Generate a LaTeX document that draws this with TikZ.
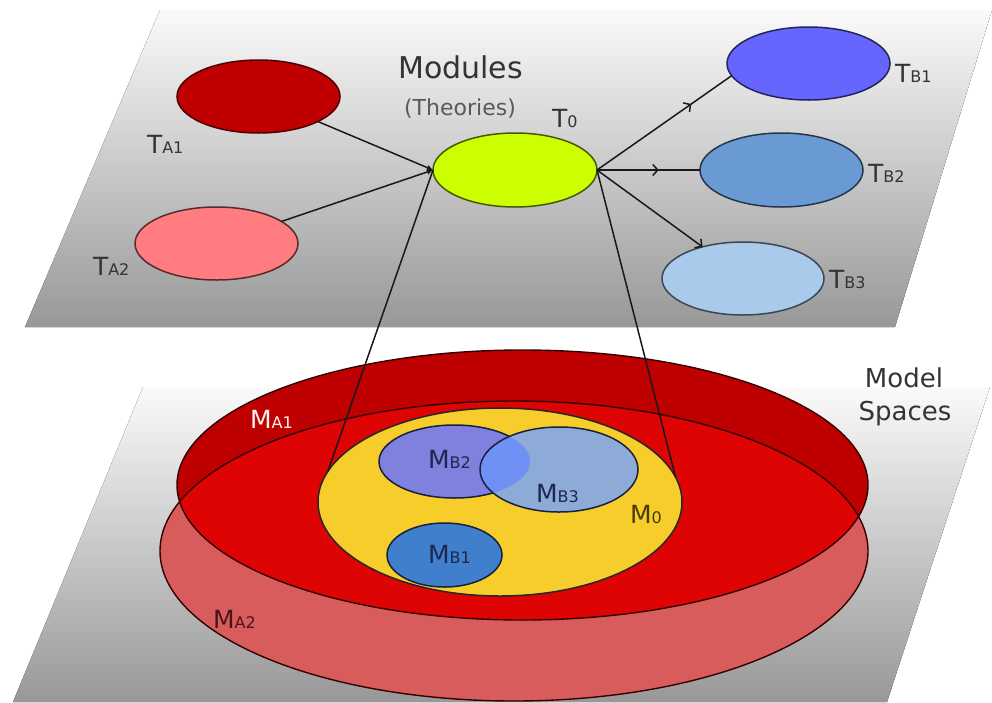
\documentclass[tikz,border=0pt]{standalone}
\usepackage{fontspec}
\setmainfont{DejaVu Sans}
\usetikzlibrary{shapes.geometric,arrows.meta,decorations.markings}

% plane shading
\definecolor{planeTop}{HTML}{FAFAFA}
\definecolor{planeBot}{HTML}{989898}
% theory colours
\definecolor{cTAone}{HTML}{C00000}
\definecolor{cTAtwo}{HTML}{FF7C80}
\definecolor{cTzero}{HTML}{CCFF00}
\definecolor{cTBone}{HTML}{6666FF}
\definecolor{cTBtwo}{HTML}{6A9AD4}
\definecolor{cTBthree}{HTML}{A9CAEB}
% model-space colours
\definecolor{cMAone}{HTML}{BE0000}
\definecolor{cMAtwo}{HTML}{D95C5C}
\definecolor{cMboth}{HTML}{DE0404}
\definecolor{cMzero}{HTML}{F7CD2C}
\definecolor{cMBone}{HTML}{3F7FCC}
\definecolor{cMBtwo}{HTML}{8080DE}
\definecolor{cMBthree}{HTML}{8EABD8}
\definecolor{cMBboth}{HTML}{6F90F5}
% text colours
\definecolor{txt}{HTML}{333333}
\definecolor{txtsoft}{HTML}{5A5A5A}
\definecolor{txtnavy}{HTML}{1C2850}
\definecolor{txtolive}{HTML}{4A3A05}
\definecolor{txtmaroon}{HTML}{4A1515}

% a letter followed by its small, baseline-aligned index
\newcommand\tsub[2]{{\fontsize{25}{25}\selectfont #1}{\fontsize{16}{16}\selectfont #2}}

\tikzset{
  blob/.style={ellipse, inner sep=0pt, outer sep=0pt, line width=1.5pt},
  link/.style={line width=1.5pt, draw=black!90},
  lbl/.style={anchor=base west, inner sep=0pt, outer sep=0pt, text=txt},
  barb/.tip={Straight Barb[length=5pt,width=11pt,line width=1.5pt]},
  midarrow/.style={postaction={decorate}, decoration={markings,
      mark=at position #1 with {\arrow{barb}}}},
}

\begin{document}
\begin{tikzpicture}[x=1pt, y=-1pt]
\useasboundingbox (0,0) rectangle (992,702);

% ---------- the two planes ----------
\fill[top color=planeTop, bottom color=planeBot]
  (160,10) -- (992,10) -- (895,327) -- (25,327) -- cycle;
\fill[top color=planeTop, bottom color=planeBot]
  (143,387) -- (990,387) -- (887,702) -- (13,702) -- cycle;

% ---------- modules (theories) ----------
\node[blob, fill=cTAone, draw=cTAone!40!black, minimum width=163pt, minimum height=73pt] (TA1) at (258.5,96.5) {};
\node[blob, fill=cTAtwo, draw=cTAtwo!35!black, minimum width=163pt, minimum height=73pt] (TA2) at (216.5,243.5) {};
\node[blob, fill=cTzero, draw=cTzero!35!black, minimum width=164pt, minimum height=74pt] (T0) at (515,170) {};
\node[blob, fill=cTBone, draw=cTBone!35!black, minimum width=163pt, minimum height=73pt] (TB1) at (808.5,63.5) {};
\node[blob, fill=cTBtwo, draw=cTBtwo!35!black, minimum width=163pt, minimum height=74pt] (TB2) at (781.5,170) {};
\node[blob, fill=cTBthree, draw=cTBthree!35!black, minimum width=162pt, minimum height=73pt] (TB3) at (743,278.5) {};

\draw[link, -{Latex[length=6pt,width=6pt]}] (TA1) -- (T0.west);
\draw[link, -{Latex[length=6pt,width=6pt]}] (TA2) -- (T0.west);
\draw[link, midarrow=0.7] (T0.east) -- (TB1.189);
\draw[link, midarrow=0.6] (T0.east) -- (TB2.west);
\draw[link, -barb] (T0.east) -- (TB3.142);

% ---------- model spaces ----------
\node[blob, fill=cMAtwo, minimum width=708pt, minimum height=300pt] (MA2) at (514,551) {};
\node[blob, fill=cMAone, minimum width=691pt, minimum height=270pt] (MA1) at (522.5,485) {};
\begin{scope}
  \clip (514,551) ellipse [x radius=354pt, y radius=150pt];
  \fill[cMboth] (522.5,485) ellipse [x radius=345.5pt, y radius=135pt];
\end{scope}
\draw[line width=1.4pt, draw=black!80!red] (514,551) ellipse [x radius=354pt, y radius=150pt];
\draw[line width=1.4pt, draw=black!80!red] (522.5,485) ellipse [x radius=345.5pt, y radius=135pt];

\node[blob, fill=cMzero, draw=black!85, minimum width=364pt, minimum height=188pt] (M0) at (500,502) {};
\node[blob, fill=cMBone, draw=txtnavy!80!black, minimum width=115pt, minimum height=64pt] (MB1) at (444.5,555) {};
\node[blob, fill=cMBtwo, draw=txtnavy!80!black, minimum width=151pt, minimum height=73pt] (MB2) at (454.5,461.5) {};
\node[blob, fill=cMBthree, minimum width=158pt, minimum height=85pt] (MB3) at (559,469.5) {};
\begin{scope}
  \clip (454.5,461.5) ellipse [x radius=75.5pt, y radius=36.5pt];
  \fill[cMBboth] (559,469.5) ellipse [x radius=79pt, y radius=42.5pt];
\end{scope}
\draw[line width=1.5pt, draw=txtnavy!80!black] (559,469.5) ellipse [x radius=79pt, y radius=42.5pt];

% projection of T0 onto its model space
\draw[link] (T0.west) -- (M0.170);
\draw[link] (T0.east) -- (M0.8);

% ---------- labels ----------
\node[anchor=base, inner sep=0pt, text=txt, font=\fontsize{30}{30}\selectfont] (modules) at (460.5,78) {Modules};
\node[anchor=base, inner sep=0pt, text=txtsoft, font=\fontsize{22}{22}\selectfont] (theories) at (460,115) {(Theories)};
\node[anchor=base, inner sep=0pt, text=txt, font=\fontsize{26}{26}\selectfont] (model) at (904,387) {Model};
\node[anchor=base, inner sep=0pt, text=txt, font=\fontsize{26}{26}\selectfont] (spaces) at (905,420) {Spaces};

\node[lbl] (lTA1) at (147,153) {\tsub{T}{A1}};
\node[lbl] (lTA2) at (93,275) {\tsub{T}{A2}};
\node[lbl] (lT0) at (552,127) {\tsub{T}{0}};
\node[lbl] (lTB1) at (895,82) {\tsub{T}{B1}};
\node[lbl] (lTB2) at (868,182) {\tsub{T}{B2}};
\node[lbl] (lTB3) at (829,288) {\tsub{T}{B3}};

\node[lbl, text=white!95!red] (lMA1) at (250,428) {\tsub{M}{A1}};
\node[lbl, text=txtmaroon] (lMA2) at (213,628) {\tsub{M}{A2}};
\node[lbl, text=txtolive] (lM0) at (630,523) {\tsub{M}{0}};
\node[lbl, text=txtnavy] (lMB1) at (428,563) {\tsub{M}{B1}};
\node[lbl, text=txtnavy] (lMB2) at (428,468) {\tsub{M}{B2}};
\node[lbl, text=txtnavy] (lMB3) at (536,502) {\tsub{M}{B3}};
\end{tikzpicture}
\end{document}
